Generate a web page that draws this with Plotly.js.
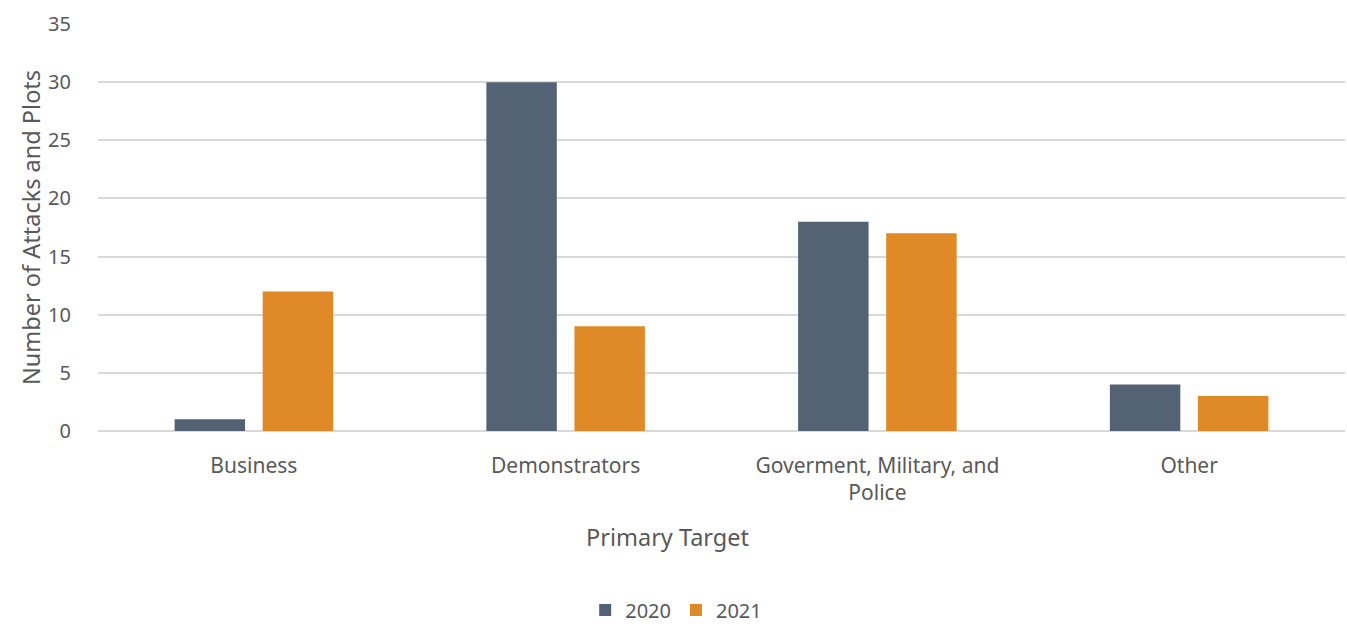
<!DOCTYPE html>
<html><head><meta charset="utf-8">
<script src="https://cdn.plot.ly/plotly-3.0.1.min.js"></script>
<style>html,body{margin:0;padding:0;background:#fff}#chart{width:1347px;height:629px}</style>
</head><body><div id="chart"></div>
<script>
const categories = ["Business", "Demonstrators", "Goverment, Military, and<br>Police", "Other"];
const values2020 = [1, 30, 18, 4];
const values2021 = [12, 9, 17, 3];
const seriesNames = ["2020", "2021"];
const yTicks = [0, 5, 10, 15, 20, 25, 30, 35];
const xTitle = "Primary Target";

const font = "'Source Sans Pro', 'Noto Sans', 'Open Sans', sans-serif";
const textColor = "#595959";

const data = [
  {type: "bar", name: seriesNames[0], x: categories, y: values2020, marker: {color: "#546275"}},
  {type: "bar", name: seriesNames[1], x: categories, y: values2021, marker: {color: "#DF8A27"}}
];
const layout = {
  width: 1347, height: 629,
  margin: {l: 98, r: 2, t: 24, b: 198, autoexpand: false},
  paper_bgcolor: "#fff", plot_bgcolor: "#fff",
  font: {family: font, size: 20, color: textColor},
  barmode: "group", bargap: 0.435, bargroupgap: 0.2,
  showlegend: true,
  legend: {orientation: "h", x: 0.502, xref: "container", xanchor: "center", y: -0.44, yanchor: "middle", font: {size: 20, color: textColor}, itemwidth: 30, tracegroupgap: 0},
  annotations: [{
    text: xTitle, xref: "paper", x: 0.457, xanchor: "center",
    yref: "paper", y: -0.26, yanchor: "middle", showarrow: false,
    font: {size: 23.5, color: textColor}
  }],
  xaxis: {
    type: "category", showgrid: false, showline: false, zeroline: false, ticks: "", automargin: false,
    tickfont: {size: 21, color: textColor}, ticklabelstandoff: 20
  },
  yaxis: {
    range: [0, 35], tickvals: yTicks, ticktext: yTicks.map(String), automargin: false,
    showgrid: true, gridcolor: "#d9d9d9", gridwidth: 2,
    zeroline: true, zerolinecolor: "#d9d9d9", zerolinewidth: 2,
    showline: false, ticks: "", ticklabelstandoff: 26,
    tickfont: {size: 20, color: textColor},
    title: {text: "Number of Attacks and Plots", font: {size: 23.5, color: textColor}, standoff: 0}
  }
};
Plotly.newPlot("chart", data, layout, {displayModeBar: false, staticPlot: true});
</script></body></html>
